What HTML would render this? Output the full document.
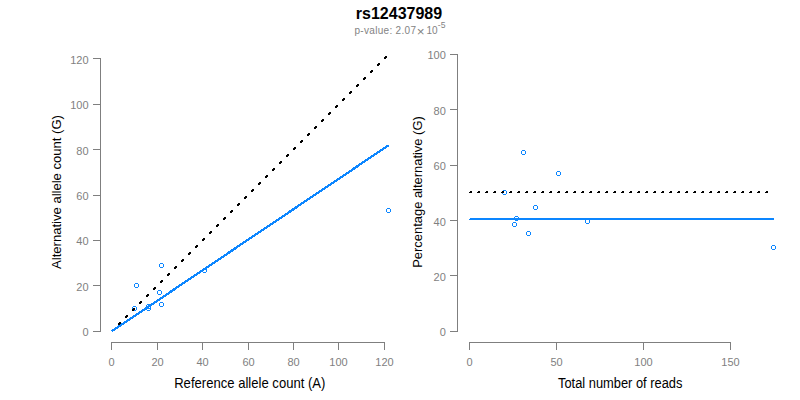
<!DOCTYPE html>
<html><head><meta charset="utf-8"><style>
html,body{margin:0;padding:0;background:#fff;width:800px;height:400px;overflow:hidden}
svg{display:block;font-family:"Liberation Sans",sans-serif}
</style></head><body>
<svg width="800" height="400" viewBox="0 0 800 400">
<path d="M100 58h1v274h-1zM93 331h7v1h-7zM93 285h7v1h-7zM93 240h7v1h-7zM93 195h7v1h-7zM93 149h7v1h-7zM93 104h7v1h-7zM93 58h7v1h-7zM111 342h274v1h-274zM111 343h1v7h-1zM157 343h1v7h-1zM202 343h1v7h-1zM248 343h1v7h-1zM293 343h1v7h-1zM338 343h1v7h-1zM384 343h1v7h-1zM457 54h1v278h-1zM450 331h7v1h-7zM450 275h7v1h-7zM450 220h7v1h-7zM450 165h7v1h-7zM450 109h7v1h-7zM450 54h7v1h-7zM469 342h262v1h-262zM469 343h1v7h-1zM556 343h1v7h-1zM643 343h1v7h-1zM730 343h1v7h-1z" fill="#7f7f7f" shape-rendering="crispEdges"/>
<g fill="#7f7f7f" font-size="11"><text x="88.6" y="336" text-anchor="end">0</text><text x="88.6" y="291" text-anchor="end">20</text><text x="88.6" y="245" text-anchor="end">40</text><text x="88.6" y="200" text-anchor="end">60</text><text x="88.6" y="155" text-anchor="end">80</text><text x="88.6" y="109" text-anchor="end">100</text><text x="88.6" y="64" text-anchor="end">120</text><text x="111.5" y="366" text-anchor="middle">0</text><text x="157.5" y="366" text-anchor="middle">20</text><text x="202.5" y="366" text-anchor="middle">40</text><text x="248.5" y="366" text-anchor="middle">60</text><text x="293.5" y="366" text-anchor="middle">80</text><text x="338.5" y="366" text-anchor="middle">100</text><text x="384.5" y="366" text-anchor="middle">120</text><text x="445.8" y="336" text-anchor="end">0</text><text x="445.8" y="281" text-anchor="end">20</text><text x="445.8" y="226" text-anchor="end">40</text><text x="445.8" y="170" text-anchor="end">60</text><text x="445.8" y="115" text-anchor="end">80</text><text x="445.8" y="59" text-anchor="end">100</text><text x="469.5" y="366" text-anchor="middle">0</text><text x="556.5" y="366" text-anchor="middle">50</text><text x="643.5" y="366" text-anchor="middle">100</text><text x="730.5" y="366" text-anchor="middle">150</text></g>
<line x1="111.8" y1="331.3" x2="388.7" y2="145.2" stroke="#0c86ff" stroke-width="2.25" shape-rendering="crispEdges"/>
<path d="M470 218h304v1h-304zM469 219h305v1h-305z" fill="#0c86ff" shape-rendering="crispEdges"/>
<path d="M133 306h3v1h-3zM132 307h1v3h-1zM136 307h1v3h-1zM133 310h3v1h-3zM503 190h3v1h-3zM502 191h1v3h-1zM506 191h1v3h-1zM503 194h3v1h-3zM135 283h3v1h-3zM134 284h1v3h-1zM138 284h1v3h-1zM135 287h3v1h-3zM522 150h3v1h-3zM521 151h1v3h-1zM525 151h1v3h-1zM522 154h3v1h-3zM160 263h3v1h-3zM159 264h1v3h-1zM163 264h1v3h-1zM160 267h3v1h-3zM557 171h3v1h-3zM556 172h1v3h-1zM560 172h1v3h-1zM557 175h3v1h-3zM158 290h3v1h-3zM157 291h1v3h-1zM161 291h1v3h-1zM158 294h3v1h-3zM534 205h3v1h-3zM533 206h1v3h-1zM537 206h1v3h-1zM534 209h3v1h-3zM160 302h3v1h-3zM159 303h1v3h-1zM163 303h1v3h-1zM160 306h3v1h-3zM527 231h3v1h-3zM526 232h1v3h-1zM530 232h1v3h-1zM527 235h3v1h-3zM147 304h3v1h-3zM146 305h1v3h-1zM150 305h1v3h-1zM147 308h3v1h-3zM515 216h3v1h-3zM514 217h1v3h-1zM518 217h1v3h-1zM515 220h3v1h-3zM147 306h3v1h-3zM146 307h1v3h-1zM150 307h1v3h-1zM147 310h3v1h-3zM513 222h3v1h-3zM512 223h1v3h-1zM516 223h1v3h-1zM513 226h3v1h-3zM203 268h3v1h-3zM202 269h1v3h-1zM206 269h1v3h-1zM203 272h3v1h-3zM586 219h3v1h-3zM585 220h1v3h-1zM589 220h1v3h-1zM586 223h3v1h-3zM387 208h3v1h-3zM386 209h1v3h-1zM390 209h1v3h-1zM387 212h3v1h-3zM772 245h3v1h-3zM771 246h1v3h-1zM775 246h1v3h-1zM772 249h3v1h-3z" fill="#0c86ff" shape-rendering="crispEdges"/>
<path d="M119 322h2v1h-2zM118 323h3v1h-3zM118 324h2v1h-2zM126 315h2v1h-2zM125 316h3v1h-3zM125 317h2v1h-2zM133 308h2v1h-2zM132 309h3v1h-3zM132 310h2v1h-2zM140 301h2v1h-2zM139 302h3v1h-3zM139 303h2v1h-2zM147 294h2v1h-2zM146 295h3v1h-3zM146 296h2v1h-2zM154 287h2v1h-2zM153 288h3v1h-3zM153 289h2v1h-2zM161 280h2v1h-2zM160 281h3v1h-3zM160 282h2v1h-2zM168 273h2v1h-2zM167 274h3v1h-3zM167 275h2v1h-2zM175 266h2v1h-2zM174 267h3v1h-3zM174 268h2v1h-2zM182 259h2v1h-2zM181 260h3v1h-3zM181 261h2v1h-2zM189 252h2v1h-2zM188 253h3v1h-3zM188 254h2v1h-2zM196 245h2v1h-2zM195 246h3v1h-3zM195 247h2v1h-2zM203 238h2v1h-2zM202 239h3v1h-3zM202 240h2v1h-2zM210 231h2v1h-2zM209 232h3v1h-3zM209 233h2v1h-2zM217 224h2v1h-2zM216 225h3v1h-3zM216 226h2v1h-2zM224 217h2v1h-2zM223 218h3v1h-3zM223 219h2v1h-2zM231 210h2v1h-2zM230 211h3v1h-3zM230 212h2v1h-2zM238 203h2v1h-2zM237 204h3v1h-3zM237 205h2v1h-2zM245 196h2v1h-2zM244 197h3v1h-3zM244 198h2v1h-2zM252 189h2v1h-2zM251 190h3v1h-3zM251 191h2v1h-2zM259 182h2v1h-2zM258 183h3v1h-3zM258 184h2v1h-2zM266 175h2v1h-2zM265 176h3v1h-3zM265 177h2v1h-2zM273 168h2v1h-2zM272 169h3v1h-3zM272 170h2v1h-2zM280 161h2v1h-2zM279 162h3v1h-3zM279 163h2v1h-2zM287 154h2v1h-2zM286 155h3v1h-3zM286 156h2v1h-2zM294 147h2v1h-2zM293 148h3v1h-3zM293 149h2v1h-2zM301 140h2v1h-2zM300 141h3v1h-3zM300 142h2v1h-2zM308 133h2v1h-2zM307 134h3v1h-3zM307 135h2v1h-2zM315 126h2v1h-2zM314 127h3v1h-3zM314 128h2v1h-2zM322 119h2v1h-2zM321 120h3v1h-3zM321 121h2v1h-2zM329 112h2v1h-2zM328 113h3v1h-3zM328 114h2v1h-2zM336 105h2v1h-2zM335 106h3v1h-3zM335 107h2v1h-2zM343 98h2v1h-2zM342 99h3v1h-3zM342 100h2v1h-2zM350 91h2v1h-2zM349 92h3v1h-3zM349 93h2v1h-2zM357 84h2v1h-2zM356 85h3v1h-3zM356 86h2v1h-2zM364 77h2v1h-2zM363 78h3v1h-3zM363 79h2v1h-2zM371 70h2v1h-2zM370 71h3v1h-3zM370 72h2v1h-2zM378 63h2v1h-2zM377 64h3v1h-3zM377 65h2v1h-2zM385 56h2v1h-2zM384 57h3v1h-3zM384 58h2v1h-2zM470 191h2v1h-2zM469 192h3v1h-3zM478 191h2v1h-2zM477 192h3v1h-3zM486 191h2v1h-2zM485 192h3v1h-3zM494 191h2v1h-2zM493 192h3v1h-3zM502 191h2v1h-2zM501 192h3v1h-3zM510 191h2v1h-2zM509 192h3v1h-3zM518 191h2v1h-2zM517 192h3v1h-3zM526 191h2v1h-2zM525 192h3v1h-3zM534 191h2v1h-2zM533 192h3v1h-3zM542 191h2v1h-2zM541 192h3v1h-3zM550 191h2v1h-2zM549 192h3v1h-3zM558 191h2v1h-2zM557 192h3v1h-3zM566 191h2v1h-2zM565 192h3v1h-3zM574 191h2v1h-2zM573 192h3v1h-3zM582 191h2v1h-2zM581 192h3v1h-3zM590 191h2v1h-2zM589 192h3v1h-3zM598 191h2v1h-2zM597 192h3v1h-3zM606 191h2v1h-2zM605 192h3v1h-3zM614 191h2v1h-2zM613 192h3v1h-3zM622 191h2v1h-2zM621 192h3v1h-3zM630 191h2v1h-2zM629 192h3v1h-3zM638 191h2v1h-2zM637 192h3v1h-3zM646 191h2v1h-2zM645 192h3v1h-3zM654 191h2v1h-2zM653 192h3v1h-3zM662 191h2v1h-2zM661 192h3v1h-3zM670 191h2v1h-2zM669 192h3v1h-3zM678 191h2v1h-2zM677 192h3v1h-3zM686 191h2v1h-2zM685 192h3v1h-3zM694 191h2v1h-2zM693 192h3v1h-3zM702 191h2v1h-2zM701 192h3v1h-3zM710 191h2v1h-2zM709 192h3v1h-3zM718 191h2v1h-2zM717 192h3v1h-3zM726 191h2v1h-2zM725 192h3v1h-3zM734 191h2v1h-2zM733 192h3v1h-3zM742 191h2v1h-2zM741 192h3v1h-3zM750 191h2v1h-2zM749 192h3v1h-3zM758 191h2v1h-2zM757 192h3v1h-3zM766 191h2v1h-2zM765 192h3v1h-3z" fill="#000" shape-rendering="crispEdges"/>
<text x="399" y="19" text-anchor="middle" font-size="16" font-weight="bold" fill="#000">rs12437989</text>
<g fill="#838383" font-size="10"><text x="354.5" y="34" textLength="61.5" lengthAdjust="spacing">p-value: 2.07</text><text x="416.8" y="35.6" font-size="13.5">×</text><text x="426.6" y="34" textLength="11" lengthAdjust="spacing">10</text><text x="437.8" y="28" font-size="8.6">-5</text></g>
<text transform="translate(249.8 388) scale(0.935 1)" font-size="14" fill="#000" text-anchor="middle">Reference allele count (A)</text>
<text transform="translate(620.2 388) scale(0.92 1)" font-size="14" fill="#000" text-anchor="middle">Total number of reads</text>
<text transform="translate(60.5 192) rotate(-90) scale(0.968 1)" font-size="13.5" fill="#000" text-anchor="middle">Alternative allele count (G)</text>
<text transform="translate(421.8 192) rotate(-90) scale(0.958 1)" font-size="13.5" fill="#000" text-anchor="middle">Percentage alternative (G)</text>
</svg>
</body></html>
